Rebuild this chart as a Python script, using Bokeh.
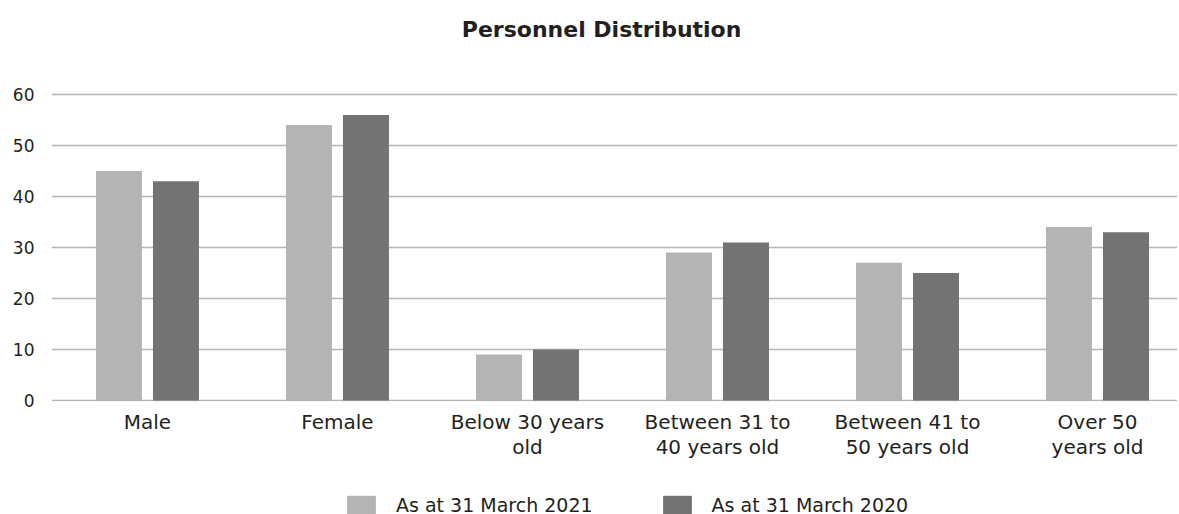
from bokeh.plotting import figure
from bokeh.layouts import column
from bokeh.models import (ColumnDataSource, Range1d, FixedTicker, Legend, LegendItem, LinearAxis, Label)
from bokeh.embed import file_html
from bokeh.resources import INLINE

categories = ["Male", "Female", "Below 30 years\nold", "Between 31 to\n40 years old",
              "Between 41 to\n50 years old", "Over 50\nyears old"]
series_2021 = [45, 54, 9, 29, 27, 34]
series_2020 = [43, 56, 10, 31, 25, 33]
series_names = ["As at 31 March 2021", "As at 31 March 2020"]
y_ticks = [0, 10, 20, 30, 40, 50, 60]
title_text = "Personnel Distribution"

FONT = "DejaVu Sans"
TXT = "#231f20"
LIGHT = "#b4b4b4"
DARK = "#737373"

centers = [i + 0.5 for i in range(len(categories))]
line1 = [c.split("\n")[0] for c in categories]
line2 = [(c.split("\n") + [" "])[1] for c in categories]

src = ColumnDataSource(dict(
    x1=[c - 0.15 for c in centers], x2=[c + 0.15 for c in centers],
    v1=series_2021, v2=series_2020))

xr = Range1d(-0.005, 5.921)


def strip(height, yr):
    f = figure(width=1177, height=height, output_backend="svg", toolbar_location=None,
               x_range=xr, y_range=yr, x_axis_type=None, y_axis_type=None,
               min_border_left=0, min_border_right=0, min_border_top=0, min_border_bottom=0)
    f.outline_line_color = None
    f.xgrid.visible = False
    f.ygrid.visible = False
    return f


# title strip
top = strip(44, Range1d(0, 44))
top.add_layout(Label(x=2.89, y=15, text=title_text, text_align="center", text_baseline="middle",
                     text_font=FONT, text_font_style="bold", text_font_size="22px",
                     text_color=TXT))

# main chart
p = figure(width=1177, height=436, output_backend="svg", toolbar_location=None,
           x_range=xr, y_range=Range1d(-0.196, 62.75),
           min_border_left=51, min_border_right=0, min_border_top=36, min_border_bottom=79)
p.outline_line_color = None
p.background_fill_color = "white"
p.border_fill_color = "white"

r1 = p.vbar(x="x1", top="v1", width=0.242, bottom=0, source=src, fill_color=LIGHT, line_color=None)
r2 = p.vbar(x="x2", top="v2", width=0.242, bottom=0, source=src, fill_color=DARK, line_color=None)

p.xgrid.visible = False
p.ygrid.grid_line_color = "#b5b5b5"
p.ygrid.grid_line_width = 1.5
p.ygrid.level = "underlay"

p.yaxis.ticker = FixedTicker(ticks=y_ticks)
p.yaxis.axis_line_color = None
p.yaxis.major_tick_line_color = None
p.yaxis.minor_tick_line_color = None
p.yaxis.major_tick_out = 0
p.yaxis.major_tick_in = 0
p.yaxis.major_label_standoff = 17
p.yaxis.major_label_text_font = FONT
p.yaxis.major_label_text_font_size = "17px"
p.yaxis.major_label_text_color = TXT


def style_x(ax, labels, standoff):
    ax.ticker = FixedTicker(ticks=centers)
    ax.major_label_overrides = {c: lab for c, lab in zip(centers, labels)}
    ax.axis_line_color = None
    ax.major_tick_line_color = None
    ax.minor_tick_line_color = None
    ax.major_tick_out = 0
    ax.major_tick_in = 0
    ax.major_label_standoff = standoff
    ax.major_label_text_font = FONT
    ax.major_label_text_font_size = "20px"
    ax.major_label_text_color = TXT


style_x(p.xaxis[0], line1, 8)
ax2 = LinearAxis()
style_x(ax2, line2, -2)
p.add_layout(ax2, "below")

# legend strip; its bars share the chart's data but lie outside its view
lg = strip(34, Range1d(200, 210))
g1 = lg.vbar(x="x1", top="v1", width=0.242, bottom=0, source=src, fill_color=LIGHT, line_color=None)
g2 = lg.vbar(x="x2", top="v2", width=0.242, bottom=0, source=src, fill_color=DARK, line_color=None)
legend = Legend(items=[LegendItem(label=series_names[0], renderers=[g1]),
                       LegendItem(label=series_names[1], renderers=[g2])],
                orientation="horizontal", location=(292, -2),
                glyph_width=36, glyph_height=23, label_standoff=17, spacing=66,
                label_text_font=FONT, label_text_font_size="19px", label_text_color=TXT,
                border_line_color=None, background_fill_alpha=0, margin=0, padding=0)
lg.add_layout(legend)

layout = column(top, p, lg, spacing=0)
open("out.html", "w").write(file_html(layout, INLINE))
